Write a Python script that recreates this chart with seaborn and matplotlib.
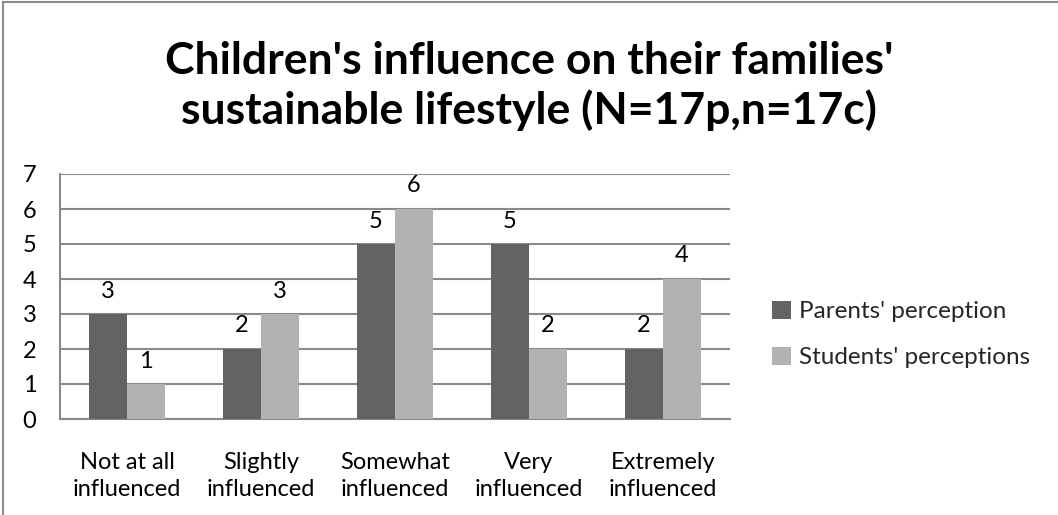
import matplotlib
matplotlib.use("Agg")
import matplotlib.pyplot as plt
from matplotlib.patches import Rectangle, Patch
import seaborn as sns
import pandas as pd

categories = ["Not at all\ninfluenced", "Slightly\ninfluenced", "Somewhat\ninfluenced",
              "Very\ninfluenced", "Extremely\ninfluenced"]
parents = [3, 2, 5, 5, 2]
students = [1, 3, 6, 2, 4]
series_names = ["Parents' perception", "Students' perceptions"]
colors = ["#636363", "#b2b2b2"]
title_lines = ["Children's influence on their families'",
               "sustainable lifestyle (N=17p,n=17c)"]

df = pd.DataFrame({
    "category": categories * 2,
    "value": parents + students,
    "series": [series_names[0]] * len(categories) + [series_names[1]] * len(categories),
})

sns.set_style("white")
plt.rcParams["font.family"] = ["Lato", "DejaVu Sans"]

W, H = 1058, 515
fig = plt.figure(figsize=(W / 100, H / 100), dpi=100)
ax = fig.add_axes([60 / W, 96 / H, 670 / W, 245 / H])

sns.barplot(data=df, x="category", y="value", hue="series", palette=colors,
            width=0.567, gap=0, saturation=1, linewidth=0, ax=ax, legend=False, zorder=3)

ax.set_ylim(0, 7)
ax.set_xlim(-0.5, len(categories) - 0.5)
ax.set_yticks(range(0, 8))
ax.yaxis.grid(True, color="#8a8a8a", linewidth=1.5, zorder=0)
ax.set_axisbelow(True)
for side in ["top", "right"]:
    ax.spines[side].set_visible(False)
for side in ["left", "bottom"]:
    ax.spines[side].set_color("#8a8a8a")
    ax.spines[side].set_linewidth(1.5)
ax.tick_params(axis="both", length=0, labelsize=17, colors="black")
ax.tick_params(axis="y", pad=17)
ax.tick_params(axis="x", pad=24)
ax.set_xlabel("")
ax.set_ylabel("")
for lab in ax.get_xticklabels():
    lab.set_linespacing(1.35)

for container in ax.containers:
    ax.bar_label(container, fmt="%d", padding=9, fontsize=17, color="black")

# two-line bold title
for line, base_px in zip(title_lines, [74, 124]):
    fig.text(0.5, 1 - base_px / H, line, ha="center", va="baseline",
             fontsize=32, fontweight="bold", color="black")

handles = [Patch(facecolor=c, edgecolor="none") for c in colors]
fig.legend(handles, series_names, loc="center left",
           bbox_to_anchor=(772 / W, 1 - 334.5 / H),
           frameon=False, fontsize=17.5, handlelength=0.8, handleheight=0.8,
           handletextpad=0.3, labelspacing=1.0, borderpad=0, borderaxespad=0)

# outer chart frame
fig.patches.append(Rectangle((3 / W, -0.1), 1.2, 0.1 + 513 / H, transform=fig.transFigure,
                             fill=False, edgecolor="#8a8a8a", linewidth=1.5))

fig.savefig("out.png", dpi=100)
